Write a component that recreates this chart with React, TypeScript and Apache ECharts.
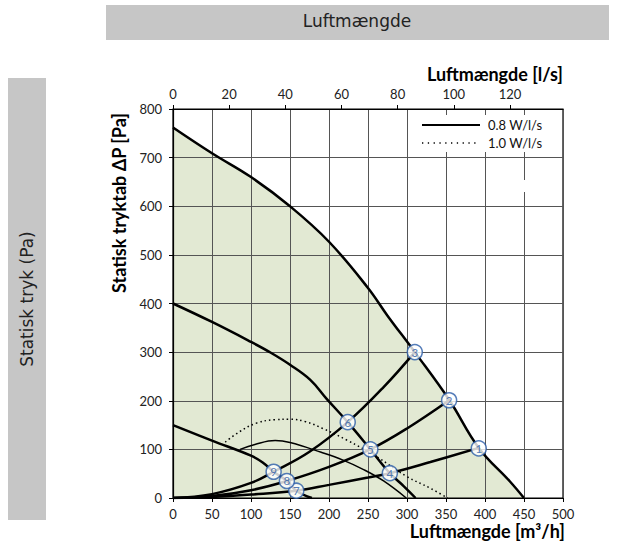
import React, { useEffect, useRef } from "react";
import * as echarts from "echarts";

const xTicks = [0, 50, 100, 150, 200, 250, 300, 350, 400, 450, 500];
const topTicksLs = [0, 20, 40, 60, 80, 100, 120];
const yTicks = [0, 100, 200, 300, 400, 500, 600, 700, 800];

// fan curves (m3/h, Pa)
const fanMax = [[0, 762], [50, 709], [100, 660], [150, 600], [200, 527], [250, 432], [275, 375], [310, 300], [354, 202], [392, 103], [432, 34], [450, 0]];
const fanMid = [[0, 400], [50, 362], [100, 321], [124, 300], [150, 274], [176, 243], [197, 204], [224, 156], [253, 100], [278, 51], [296, 24], [311, 0]];
const fanLow = [[0, 150], [50, 118], [100, 87], [115, 73], [129, 54], [146, 35], [158, 15], [178, 0]];
// system curves
const sys1 = [[0, 0], [50, 2], [100, 7], [158, 15], [200, 27], [250, 42], [278, 51], [330, 74], [392, 103]];
const sys2 = [[0, 0], [50, 4], [100, 16], [146, 35], [200, 64], [253, 100], [300, 143], [354, 201]];
const sys3 = [[0, 0], [50, 8], [100, 31], [129, 54], [175, 95], [224, 156], [270, 228], [310, 300]];
// thin curve and 1.0 W/l/s curve
const thinCurve = [[86, 100], [105, 110], [131, 118], [150, 114], [190, 94], [218, 78], [245, 58], [270, 35], [299, 0]];
const dotted10 = [[67, 115], [85, 136], [107, 154], [130, 161], [150, 162], [170, 157], [192, 143], [223, 119], [261, 85], [300, 44], [330, 20], [352, 0]];
// numbered points
const pointLabels = ["1", "2", "3", "4", "5", "6", "7", "8", "9"];
const pointX = [392, 354, 310, 278, 253, 224, 158, 146, 129];
const pointY = [102, 201, 300, 51, 100, 156, 15, 35, 54];

const FONT = "Lato";

export default function App() {
  const ref = useRef<HTMLDivElement>(null);
  useEffect(() => {
    const chart = echarts.init(ref.current!, null, { renderer: "svg" });
    const lineS = (data: number[][], width: number, extra: any = {}) => ({
      type: "line",
      data,
      smooth: 0.4,
      symbol: "none",
      z: 4,
      lineStyle: { color: "#000", width },
      ...extra,
    });
    const option: any = {
      animation: false,
      backgroundColor: "#fff",
      grid: { left: 173, right: 77, top: 109, bottom: 48, show: true, borderColor: "#000", borderWidth: 1.2, z: 3 },
      xAxis: [
        {
          type: "value",
          min: xTicks[0],
          max: xTicks[xTicks.length - 1],
          interval: 50,
          z: 3,
          axisLine: { show: true, lineStyle: { color: "#000", width: 1.2 } },
          axisTick: { show: true, length: 4, lineStyle: { color: "#000" } },
          axisLabel: { color: "#222", fontFamily: FONT, fontSize: 13, margin: 9 },
          splitLine: { show: true, lineStyle: { color: "#555", width: 1 } },
        },
        {
          type: "value",
          position: "top",
          min: topTicksLs[0],
          max: 500 / 3.6,
          interval: 20,
          z: 3,
          axisLine: { show: true, onZero: false, lineStyle: { color: "#000", width: 1.2 } },
          axisTick: { show: true, length: 4, lineStyle: { color: "#000" } },
          axisLabel: { color: "#222", fontFamily: FONT, fontSize: 13, margin: 9, showMaxLabel: false },
          splitLine: { show: false },
        },
      ],
      yAxis: {
        type: "value",
        min: yTicks[0],
        max: yTicks[yTicks.length - 1],
        interval: 100,
        z: 3,
        axisLine: { show: true, lineStyle: { color: "#000", width: 1.2 } },
        axisTick: { show: true, length: 4, lineStyle: { color: "#000" } },
        axisLabel: { color: "#222", fontFamily: FONT, fontSize: 13, margin: 11 },
        splitLine: { show: true, lineStyle: { color: "#555", width: 1 } },
      },
      series: [
        {
          type: "line",
          data: fanMax,
          smooth: 0.4,
          symbol: "none",
          z: 1,
          lineStyle: { width: 0 },
          areaStyle: { color: "#e2e9d3", opacity: 1 },
        },
        lineS(fanMax, 2.5),
        lineS(fanMid, 2.5),
        lineS(fanLow, 2.5),
        lineS(sys1, 2.5),
        lineS(sys2, 2.5),
        lineS(sys3, 2.5),
        lineS(thinCurve, 1.5),
        lineS(dotted10, 1.5, { lineStyle: { color: "#000", width: 1.5, type: [1.5, 3] } }),
        {
          type: "scatter",
          z: 6,
          data: pointLabels.map((l, i) => ({ value: [pointX[i], pointY[i]], name: l })),
          symbol: "circle",
          symbolSize: 15,
          itemStyle: { color: "#fff", borderColor: "#2a5ca8", borderWidth: 1.5 },
          label: {
            show: true,
            position: "inside",
            formatter: (p: any) => p.name,
            color: "#2a5ca8",
            fontFamily: FONT,
            fontSize: 11.5,
          },
        },
      ],
      graphic: [
        { type: "rect", z: 10, shape: { x: 106, y: 5, width: 503, height: 35 }, style: { fill: "#c6c6c6" } },
        { type: "text", z: 11, x: 357, y: 21, style: { text: "Luftmængde", fill: "#222", font: "17px 'DejaVu Sans'", textAlign: "center", textVerticalAlign: "middle" } },
        { type: "rect", z: 10, shape: { x: 8, y: 78, width: 38, height: 442 }, style: { fill: "#c6c6c6" } },
        { type: "text", z: 11, x: 27, y: 299, rotation: Math.PI / 2, style: { text: "Statisk tryk (Pa)", fill: "#222", font: "17px 'DejaVu Sans'", textAlign: "center", textVerticalAlign: "middle" } },
        { type: "text", z: 11, x: 563, y: 74, style: { text: "Luftmængde [l/s]", fill: "#000", font: `bold 18px ${FONT}`, textAlign: "right", textVerticalAlign: "middle" } },
        { type: "text", z: 11, x: 565, y: 531, style: { text: "Luftmængde [m³/h]", fill: "#000", font: `bold 18px ${FONT}`, textAlign: "right", textVerticalAlign: "middle" } },
        { type: "text", z: 11, x: 119, y: 203, rotation: Math.PI / 2, style: { text: "Statisk tryktab ΔP [Pa]", fill: "#000", font: `bold 18px ${FONT}`, textAlign: "center", textVerticalAlign: "middle" } },
        // legend box
        { type: "rect", z: 10, shape: { x: 408, y: 115, width: 154, height: 37 }, style: { fill: "#fff" } },
        { type: "line", z: 11, shape: { x1: 422, y1: 125, x2: 480, y2: 125 }, style: { stroke: "#000", lineWidth: 2 } },
        { type: "line", z: 11, shape: { x1: 422, y1: 143, x2: 480, y2: 143 }, style: { stroke: "#000", lineWidth: 1.3, lineDash: [1.3, 4.5] } },
        { type: "text", z: 11, x: 488, y: 125, style: { text: "0.8 W/l/s", fill: "#111", font: `13px ${FONT}`, textVerticalAlign: "middle" } },
        { type: "text", z: 11, x: 488, y: 143, style: { text: "1.0 W/l/s", fill: "#111", font: `13px ${FONT}`, textVerticalAlign: "middle" } },
        { type: "rect", z: 10, shape: { x: 521, y: 180, width: 4, height: 12 }, style: { fill: "#fff" } },
      ],
    };
    chart.setOption(option);
    return () => chart.dispose();
  }, []);
  return <div ref={ref} style={{ position: "fixed", left: 0, top: 0, width: 640, height: 546 }} />;
}
